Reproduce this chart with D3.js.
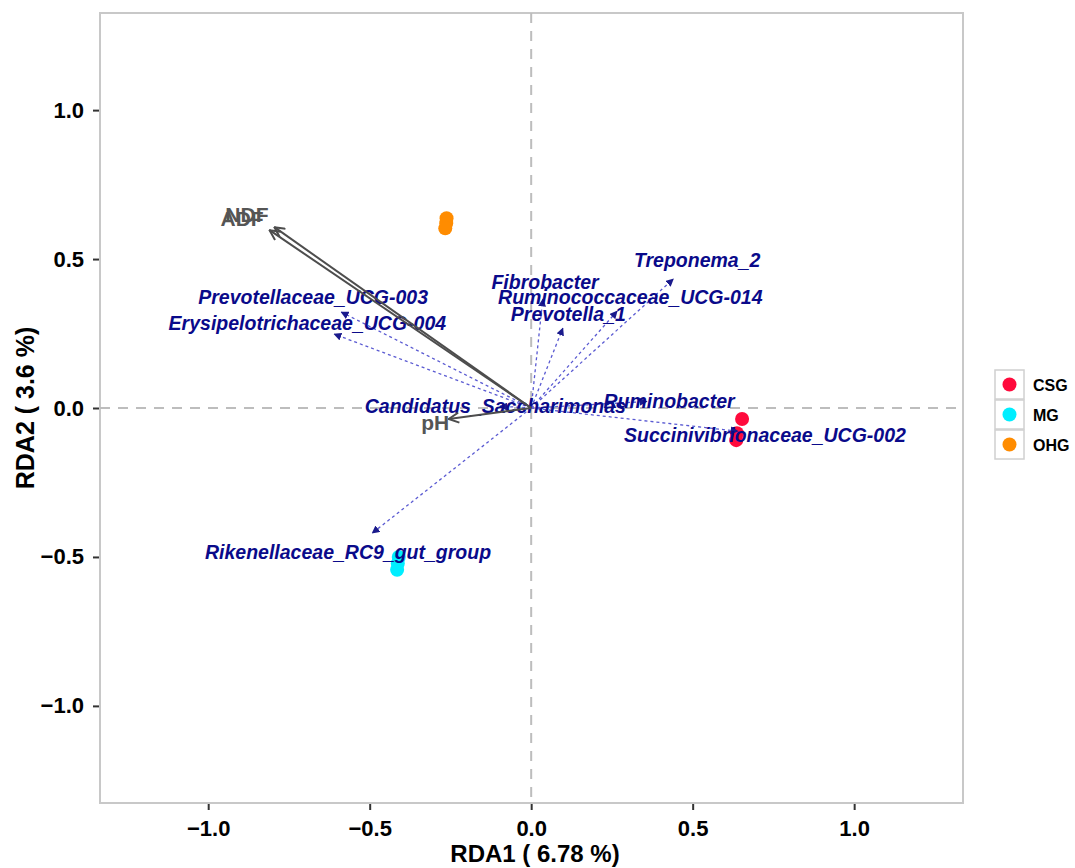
<!DOCTYPE html>
<html>
<head>
<meta charset="utf-8">
<style>
  body { margin: 0; background: #fff; }
  text { font-family: "Liberation Sans", Arial, sans-serif; }
  .tick text { font-size: 22px; font-weight: bold; fill: #000; }
  .tick line { stroke: #333; stroke-width: 2; }
  .species text { font-size: 19.5px; font-weight: bold; font-style: italic; fill: #0a0a8a; }
  .env text { font-size: 21px; font-weight: bold; fill: #555; }
</style>
<script src="https://cdn.jsdelivr.net/npm/d3@7"></script>
</head>
<body>
<div id="chart"></div>
<script>
var width = 1075, height = 868;
var margin = {left: 100, top: 13, right: 112, bottom: 65};

// sample scores (site points)
var groups = ["CSG", "MG", "OHG"];
var groupColors = ["#ff0a3c", "#00eeff", "#ff8c00"];
var siteGroup = ["CSG", "CSG", "CSG", "MG", "MG", "MG", "OHG", "OHG", "OHG"];
var siteX = [0.653, 0.637, 0.635, -0.410, -0.413, -0.415, -0.262, -0.263, -0.266];
var siteY = [-0.037, -0.085, -0.108, -0.500, -0.522, -0.543, 0.637, 0.620, 0.603];

// environmental factor arrows
var envNames = ["NDF", "ADF", "pH"];
var envX = [-0.795, -0.810, -0.255];
var envY = [0.607, 0.597, -0.037];
var envLabelX = [-0.880, -0.895, -0.297];
var envLabelY = [0.650, 0.636, -0.048];

// species arrows
var spNames = ["Treponema_2", "Fibrobacter", "Ruminococcaceae_UCG-014", "Prevotella_1",
  "Prevotellaceae_UCG-003", "Erysipelotrichaceae_UCG-004", "Candidatus_Saccharimonas",
  "Ruminobacter", "Succinivibrionaceae_UCG-002", "Rikenellaceae_RC9_gut_group"];
var spX = [0.440, 0.036, 0.266, 0.098, -0.588, -0.610, -0.097, 0.358, 0.640, -0.492];
var spY = [0.433, 0.365, 0.325, 0.268, 0.322, 0.248, 0.006, 0.022, -0.078, -0.420];
var spLabelX = [0.514, 0.043, 0.307, 0.115, -0.675, -0.693, -0.111, 0.427, 0.724, -0.567];
var spLabelY = [0.497, 0.423, 0.372, 0.315, 0.372, 0.285, 0.007, 0.023, -0.090, -0.483];

var xTicks = [-1.0, -0.5, 0.0, 0.5, 1.0];
var yTicks = [-1.0, -0.5, 0.0, 0.5, 1.0];
var xTitle = "RDA1 ( 6.78 %)";
var yTitle = "RDA2 ( 3.6 %)";

var svg = d3.select("#chart").append("svg")
  .attr("width", width).attr("height", height);

var x = d3.scaleLinear().domain([-1.335, 1.337]).range([margin.left, width - margin.right]);
var y = d3.scaleLinear().domain([-1.326, 1.326]).range([height - margin.bottom, margin.top]);

var defs = svg.append("defs");
defs.append("marker").attr("id", "envhead")
  .attr("viewBox", "0 0 12 12").attr("refX", 11).attr("refY", 6)
  .attr("markerWidth", 12).attr("markerHeight", 12).attr("markerUnits", "userSpaceOnUse")
  .attr("orient", "auto")
  .append("path").attr("d", "M1,1 L11,6 L1,11").attr("fill", "none")
  .attr("stroke", "#4d4d4d").attr("stroke-width", 2);
defs.append("marker").attr("id", "sphead")
  .attr("viewBox", "0 0 10 10").attr("refX", 9).attr("refY", 5)
  .attr("markerWidth", 8).attr("markerHeight", 8).attr("markerUnits", "userSpaceOnUse")
  .attr("orient", "auto")
  .append("path").attr("d", "M0,0 L10,5 L0,10 Z").attr("fill", "#1a1a8c");

// axes
svg.append("g")
  .attr("transform", "translate(0," + (height - margin.bottom) + ")")
  .call(d3.axisBottom(x).tickValues(xTicks).tickFormat(d3.format(".1f")).tickSize(7).tickPadding(10))
  .call(function(g) { g.select(".domain").remove(); });
svg.append("g")
  .attr("transform", "translate(" + margin.left + ",0)")
  .call(d3.axisLeft(y).tickValues(yTicks).tickFormat(d3.format(".1f")).tickSize(7).tickPadding(9))
  .call(function(g) { g.select(".domain").remove(); });
svg.selectAll(".tick text").text(function(d) { return d3.format(".1f")(d).replace("-", "\u2212"); });

// panel border
svg.append("rect")
  .attr("x", x.range()[0]).attr("y", y.range()[1])
  .attr("width", x.range()[1] - x.range()[0]).attr("height", y.range()[0] - y.range()[1])
  .attr("fill", "none").attr("stroke", "#c8c8c8").attr("stroke-width", 2);

// zero lines
svg.append("line")
  .attr("x1", x.range()[0]).attr("x2", x.range()[1]).attr("y1", y(0)).attr("y2", y(0))
  .attr("stroke", "#bdbdbd").attr("stroke-width", 2).attr("stroke-dasharray", "10,8");
svg.append("line")
  .attr("x1", x(0)).attr("x2", x(0)).attr("y1", y.range()[1]).attr("y2", y.range()[0])
  .attr("stroke", "#bdbdbd").attr("stroke-width", 2).attr("stroke-dasharray", "10,8");

// site points
var color = d3.scaleOrdinal().domain(groups).range(groupColors);
svg.append("g").selectAll("circle").data(siteX).enter().append("circle")
  .attr("cx", function(d) { return x(d); })
  .attr("cy", function(d, i) { return y(siteY[i]); })
  .attr("r", 7)
  .attr("fill", function(d, i) { return color(siteGroup[i]); });

// species arrows
var sp = svg.append("g").attr("class", "species");
sp.selectAll("line").data(spNames).enter().append("line")
  .attr("x1", x(0)).attr("y1", y(0))
  .attr("x2", function(d, i) { return x(spX[i]); })
  .attr("y2", function(d, i) { return y(spY[i]); })
  .attr("stroke", "#5a5ad2").attr("stroke-width", 1.3)
  .attr("stroke-dasharray", "3,3")
  .attr("marker-end", "url(#sphead)");

// env arrows
var env = svg.append("g").attr("class", "env");
env.selectAll("line").data(envNames).enter().append("line")
  .attr("x1", x(0)).attr("y1", y(0))
  .attr("x2", function(d, i) { return x(envX[i]); })
  .attr("y2", function(d, i) { return y(envY[i]); })
  .attr("stroke", "#4d4d4d").attr("stroke-width", 2)
  .attr("marker-end", "url(#envhead)");

env.selectAll("text").data(envNames).enter().append("text")
  .attr("x", function(d, i) { return x(envLabelX[i]); })
  .attr("y", function(d, i) { return y(envLabelY[i]); })
  .attr("text-anchor", "middle").attr("dominant-baseline", "central")
  .text(function(d) { return d; });

sp.selectAll("text").data(spNames).enter().append("text")
  .attr("x", function(d, i) { return x(spLabelX[i]); })
  .attr("y", function(d, i) { return y(spLabelY[i]); })
  .attr("text-anchor", "middle").attr("dominant-baseline", "central")
  .text(function(d) { return d; });

// axis titles
svg.append("text")
  .attr("x", 535).attr("y", 853)
  .attr("text-anchor", "middle").attr("dominant-baseline", "central")
  .attr("font-size", 24).attr("font-weight", "bold").text(xTitle);
svg.append("text")
  .attr("transform", "translate(25," + y(0) + ") rotate(-90)")
  .attr("text-anchor", "middle").attr("dominant-baseline", "central")
  .attr("font-size", 25).attr("font-weight", "bold").text(yTitle);

// legend
var legend = svg.append("g").attr("transform", "translate(995,370)");
var rows = legend.selectAll("g").data(groups).enter().append("g")
  .attr("transform", function(d, i) { return "translate(0," + (i * 30) + ")"; });
rows.append("rect").attr("width", 29).attr("height", 29)
  .attr("fill", "#fff").attr("stroke", "#d0d0d0").attr("stroke-width", 1.5);
rows.append("circle").attr("cx", 14.5).attr("cy", 14.5).attr("r", 7)
  .attr("fill", function(d) { return color(d); });
rows.append("text").attr("x", 38).attr("y", 15)
  .attr("dominant-baseline", "central")
  .attr("font-size", 16).attr("font-weight", "bold").text(function(d) { return d; });
</script>
</body>
</html>
